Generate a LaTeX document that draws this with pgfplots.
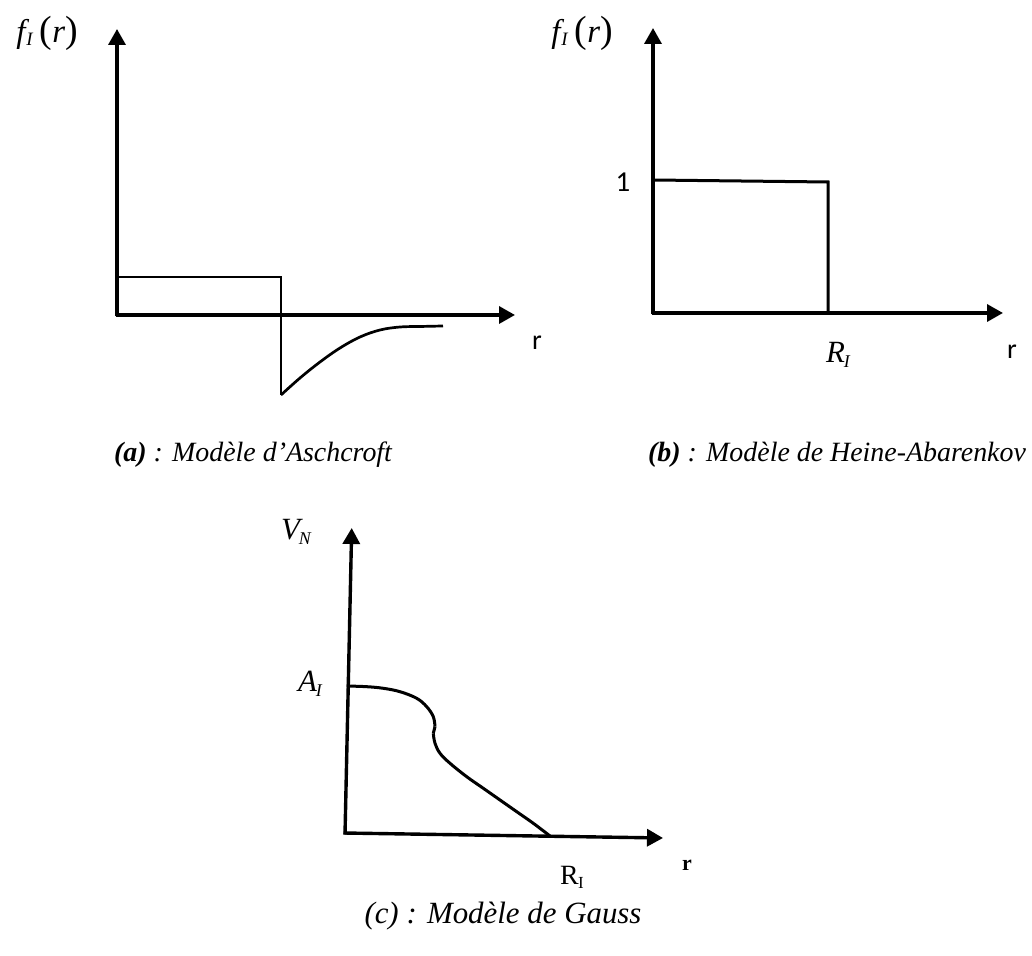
\documentclass[border=0pt]{standalone}
\usepackage{fontspec}
\setmainfont{Liberation Serif}
\newfontfamily\sansfont{Carlito}
\usepackage{pgfplots}
\pgfplotsset{compat=1.18}
\usetikzlibrary{arrows.meta}

% one unit of data = 1bp on the page in every panel
\pgfplotsset{
  schema/.style={hide axis, scale only axis, clip=false, anchor=origin},
  axisarrow/.style={no markers, black, line width=3.4bp,
    -{Triangle[width=17bp,length=16bp]}},
  trace/.style={no markers, black, line width=3bp, line join=miter},
  smoothtrace/.style={no markers, black, line width=3bp, smooth, tension=0.6},
}
% italic symbol with a lowered subscript
\newcommand{\sym}[2]{{\fontsize{31}{31}\selectfont\itshape #1}\kern-1bp{\fontsize{18}{18}\selectfont\itshape\raisebox{-5bp}{#2}}}
\newcommand{\fI}{{\fontsize{33}{33}\selectfont\itshape f}\kern1bp{\fontsize{19}{19}\selectfont\itshape\raisebox{-3bp}{I}}\kern7bp{\fontsize{38}{38}\selectfont(}{\fontsize{33}{33}\selectfont\itshape r}{\fontsize{38}{38}\selectfont)}}
\newcommand{\capfont}{\fontsize{28}{28}\selectfont}

\begin{document}
\begin{tikzpicture}
\useasboundingbox (0,0) rectangle (1032bp,956bp);

% (a) Aschcroft model
\begin{axis}[schema, at={(117bp,641bp)},
  xmin=-117, xmax=415, ymin=-160, ymax=300, width=532bp, height=460bp]
  \addplot[axisarrow] coordinates {(0,-1.5) (0,286)};
  \addplot[axisarrow] coordinates {(-1.5,0) (398,0)};
  \addplot[trace, line width=2.7bp] coordinates {(-2,38) (164,38) (164,-80)};
  \addplot[smoothtrace, line width=2.7bp] coordinates {(164,-80) (183,-63) (203,-47) (223,-33)
    (243,-22) (263,-15) (283,-12) (303,-11.5) (326,-11)};
  \node at (axis cs:-70,282) {\fI};
  \node at (axis cs:420,-28) {\sansfont\fontsize{28}{28}\selectfont r};
  \node at (axis cs:136,-140) {\capfont\bfseries\itshape (a)\mdseries\ : Modèle d’Aschcroft};
\end{axis}

% (b) Heine-Abarenkov model
\begin{axis}[schema, at={(653bp,643bp)},
  xmin=-100, xmax=379, ymin=-160, ymax=300, width=479bp, height=460bp]
  \addplot[axisarrow] coordinates {(0,-1.5) (0,285)};
  \addplot[axisarrow] coordinates {(-1.5,0) (350,0)};
  \addplot[trace] coordinates {(0,133) (175,131) (175,0)};
  \node at (axis cs:-71,280) {\fI};
  \node at (axis cs:-30,131) {\sansfont\fontsize{29}{29}\selectfont 1};
  \node at (axis cs:185,-42) {\sym{R}{I}};
  \node at (axis cs:359,-39) {\sansfont\fontsize{28}{28}\selectfont r};
  \node at (axis cs:184,-142) {\capfont\bfseries\itshape (b)\mdseries\ : Modèle de Heine-Abarenkov};
\end{axis}

% (c) Gauss model
\begin{axis}[schema, at={(345bp,123bp)},
  xmin=-80, xmax=360, ymin=-105, ymax=320, width=440bp, height=425bp]
  \addplot[axisarrow] coordinates {(0,-1.5) (6.7,305)};
  \addplot[axisarrow] coordinates {(-1.5,0) (318,-5)};
  \addplot[smoothtrace] coordinates {(1.7,147) (21.7,146.3) (38.3,144.7)
    (55,141.3) (71.7,134.7) (81.7,126.3) (88.3,116.3) (90,106.3)};
  \addplot[trace] coordinates {(90,106.3) (88.3,99.7)};
  \addplot[smoothtrace] coordinates {(88.3,99.7) (90,89.7) (95,79.7) (105,69.7)
    (121.7,56.3) (138.3,44.7) (155,33) (171.7,21.3) (188.3,9.7) (205,-3)};
  \node at (axis cs:-49,301) {\sym{V}{N}};
  \node at (axis cs:-35,149) {\sym{A}{I}};
  \node at (axis cs:227,-44) {\fontsize{28}{28}\selectfont R\kern-0.5bp{\fontsize{17}{17}\selectfont\raisebox{-4bp}{I}}};
  \node at (axis cs:342,-32) {\fontsize{22}{22}\selectfont\bfseries r};
  \node at (axis cs:158,-83) {\fontsize{31}{31}\selectfont\itshape (c) : Modèle de Gauss};
\end{axis}
\end{tikzpicture}
\end{document}
